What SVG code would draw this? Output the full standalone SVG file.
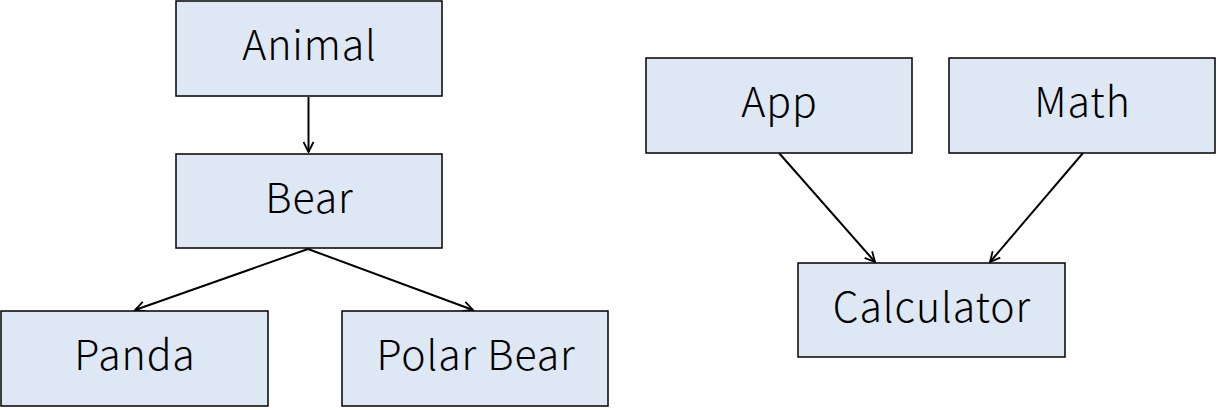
<svg xmlns="http://www.w3.org/2000/svg" width="1218" height="410" viewBox="0 0 1218 410">
<style>
.box{fill:#dde8f4;stroke:#000;stroke-width:1.5}
.lbl{font-family:"Noto Sans CJK JP","Noto Sans","Liberation Sans",sans-serif;font-weight:300;font-size:41px;letter-spacing:0.9px;fill:#000;text-anchor:middle}
.edge{stroke:#000;stroke-width:2;fill:none;marker-end:url(#arr)}
</style>
<defs>
<marker id="arr" viewBox="0 0 12 12" refX="11" refY="6" markerWidth="12" markerHeight="12" markerUnits="userSpaceOnUse" orient="auto">
<path d="M1,1 L11,6 L1,11" fill="none" stroke="#000" stroke-width="1.8"/>
</marker>
</defs>
<rect width="1218" height="410" fill="#fff"/>
<g id="connectors">
<line class="edge" x1="308.5" y1="97" x2="308.5" y2="152"/>
<line class="edge" x1="308" y1="249" x2="135" y2="310"/>
<line class="edge" x1="308" y1="249" x2="473" y2="310"/>
<line class="edge" x1="779" y1="153" x2="875" y2="262"/>
<line class="edge" x1="1083" y1="153" x2="990" y2="262"/>
</g>
<g id="animal"><rect class="box" x="176" y="1" width="266" height="95"/><text class="lbl" x="309.5" y="60">Animal</text></g>
<g id="bear"><rect class="box" x="176" y="154" width="266" height="94"/><text class="lbl" x="309.5" y="213">Bear</text></g>
<g id="panda"><rect class="box" x="1" y="311" width="267" height="95"/><text class="lbl" x="135" y="370">Panda</text></g>
<g id="polarbear"><rect class="box" x="342" y="311" width="266" height="95"/><text class="lbl" x="476" y="370">Polar Bear</text></g>
<g id="app"><rect class="box" x="646" y="58" width="266" height="95"/><text class="lbl" x="779.5" y="117">App</text></g>
<g id="math"><rect class="box" x="949" y="58" width="266" height="95"/><text class="lbl" x="1082.5" y="117">Math</text></g>
<g id="calculator"><rect class="box" x="798" y="263" width="267" height="94"/><text class="lbl" x="932" y="322">Calculator</text></g>
</svg>
